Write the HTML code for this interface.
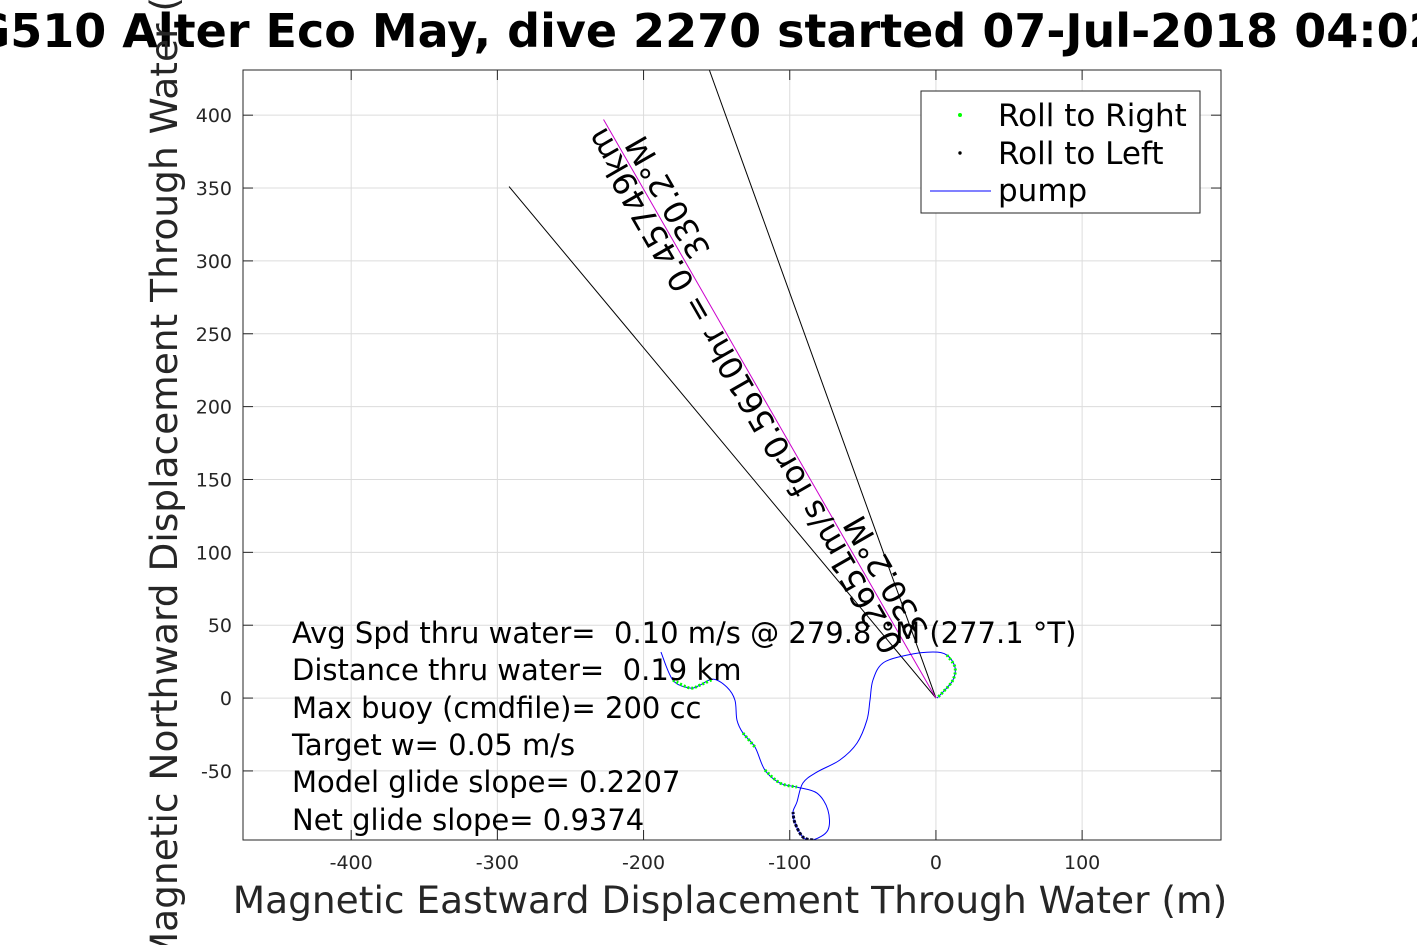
<!DOCTYPE html>
<html><head><meta charset="utf-8"><style>
html,body{margin:0;padding:0;background:#fff;}
body{width:1417px;height:945px;overflow:hidden;position:relative;font-family:"DejaVu Sans","Liberation Sans",sans-serif;}
.pre{white-space:pre;}
</style></head><body>
<svg id="chart" width="1417" height="945" xmlns="http://www.w3.org/2000/svg" font-family="DejaVu Sans, Liberation Sans, sans-serif">
<defs><clipPath id="pc"><rect x="243" y="70" width="978" height="770"/></clipPath></defs>
<rect x="0" y="0" width="1417" height="945" fill="#fff"/>
<text x="690" y="47" text-anchor="middle" font-size="46" font-weight="bold" fill="#000">SG510 Alter Eco May, dive 2270 started 07-Jul-2018 04:02</text>
<rect x="243" y="70" width="978" height="770" fill="#fff"/>
<g id="grid"></g>
<g id="marks" clip-path="url(#pc)"></g>
<rect x="243" y="70" width="978" height="770" fill="none" stroke="#262626" stroke-width="1"/>
<g id="ticks"></g>
<text x="730" y="913" text-anchor="middle" font-size="37.5" fill="#262626">Magnetic Eastward Displacement Through Water (m)</text>
<text transform="translate(177,455) rotate(-90)" text-anchor="middle" font-size="37.5" fill="#262626">Magnetic Northward Displacement Through Water (m)</text>
<g font-size="29" fill="#000" class="pre">
<text x="292" y="643" class="pre">Avg Spd thru water=  0.10 m/s @ 279.8 °M (277.1 °T)</text>
<text x="292" y="680" class="pre">Distance thru water=  0.19 km</text>
<text x="292" y="718">Max buoy (cmdfile)= 200 cc</text>
<text x="292" y="755">Target w= 0.05 m/s</text>
<text x="292" y="792">Model glide slope= 0.2207</text>
<text x="292" y="830">Net glide slope= 0.9374</text>
</g>
<g>
<rect x="921" y="91" width="279" height="122" fill="#fff" stroke="#262626"/>
<circle cx="960" cy="115" r="2" fill="#00ff00"/>
<text x="998" y="126" font-size="31">Roll to Right</text>
<circle cx="960" cy="153" r="1.7" fill="#000"/>
<text x="998" y="164" font-size="31">Roll to Left</text>
<line x1="930" y1="191" x2="991" y2="191" stroke="#0000ff" stroke-width="1"/>
<text x="998" y="201" font-size="31">pump</text>
</g>
</svg>
<script>
const xTicks=[-400,-300,-200,-100,0,100];
const yTicks=[-50,0,50,100,150,200,250,300,350,400];
const trackX=[-188.1,-179.9,-168.3,-161.4,-152.5,-143.0,-137.5,-136.1,-132.0,-123.8,-117.0,-106.7,-95.1,-81.4,-73.9,-73.9,-84.1,-91.0,-96.4,-97.8,-95.1,-91.0,-81.4,-65.7,-54.0,-47.2,-45.1,-43.1,-36.3,-19.8,-2.1,7.5,13.0,11.6,4.8,0.7];
const trackY=[31.6,12.3,6.9,8.9,13.0,7.5,-1.4,-15.1,-24.0,-33.6,-49.4,-58.3,-61.1,-65.2,-76.8,-90.6,-97.4,-95.4,-85.8,-78.2,-71.4,-58.3,-50.8,-42.5,-30.9,-15.1,-1.4,12.3,24.0,29.5,31.6,29.5,21.3,12.3,4.1,0];
const rightRollRanges=[[1,4],[8,9],[10,12],[31,35]];
const leftRollRanges=[[16,19]];
const headingDeg=[330.2];
const distanceM=[457.5];
const boundsX=[-292,-155];
const boundsY=[351,431];
const X0=-474,X1=195,Y0=-97.4,Y1=431;
const px0=243,px1=1221,py0=840,py1=70;
function sx(v){return px0+(v-X0)/(X1-X0)*(px1-px0);}
function sy(v){return py0-(v-Y0)/(Y1-Y0)*(py0-py1);}
const NS="http://www.w3.org/2000/svg";
function mk(t,a,p){const e=document.createElementNS(NS,t);for(const k in a)e.setAttribute(k,a[k]);p.appendChild(e);return e;}
const grid=document.getElementById('grid'),ticks=document.getElementById('ticks'),marks=document.getElementById('marks');
xTicks.forEach(t=>{const x=sx(t);
 const g=mk('line',{x1:x,x2:x,y1:70,y2:840,stroke:'#dcdcdc','stroke-width':1},grid);
 
 
 mk('line',{x1:x,x2:x,y1:840,y2:830,stroke:'#262626'},ticks);
 mk('line',{x1:x,x2:x,y1:70,y2:80,stroke:'#262626'},ticks);
 const l=mk('text',{x:x,y:869,'text-anchor':'middle','font-size':19,fill:'#262626'},ticks);
 
 
 l.textContent=t;});
yTicks.forEach(t=>{const y=sy(t);
 const g=mk('line',{x1:243,x2:1221,y1:y,y2:y,stroke:'#dcdcdc','stroke-width':1},grid);
 
 
 mk('line',{x1:243,x2:253,y1:y,y2:y,stroke:'#262626'},ticks);
 mk('line',{x1:1221,x2:1211,y1:y,y2:y,stroke:'#262626'},ticks);
 const l=mk('text',{x:232,y:y+7,'text-anchor':'end','font-size':19,fill:'#262626'},ticks);
 
 
 l.textContent=t;});
const ox=sx(0),oy=sy(0);
for(let i=0;i<boundsX.length;i++){
 const l=mk('line',{x1:ox,y1:oy,x2:sx(boundsX[i]),y2:sy(boundsY[i]),stroke:'#000','stroke-width':1},marks);
 
 
}
const h=headingDeg[0]*Math.PI/180;
const ex=distanceM[0]*Math.sin(h),ey=distanceM[0]*Math.cos(h);
const cv=mk('line',{x1:ox,y1:oy,x2:sx(ex),y2:sy(ey),stroke:'#cc00cc','stroke-width':1},marks);


function smooth(P){
 if(P.length<2)return '';
 let d='M'+P[0][0]+','+P[0][1];
 for(let i=0;i<P.length-1;i++){
  const p0=P[Math.max(0,i-1)],p1=P[i],p2=P[i+1],p3=P[Math.min(P.length-1,i+2)];
  const c1x=p1[0]+(p2[0]-p0[0])/6,c1y=p1[1]+(p2[1]-p0[1])/6;
  const c2x=p2[0]-(p3[0]-p1[0])/6,c2y=p2[1]-(p3[1]-p1[1])/6;
  d+=' C'+c1x+','+c1y+' '+c2x+','+c2y+' '+p2[0]+','+p2[1];
 }
 return d;}
const P=trackX.map((x,i)=>[sx(x),sy(trackY[i])]);
const tr=mk('path',{d:smooth(P),fill:'none',stroke:'#0000ff','stroke-width':1},marks);


rightRollRanges.forEach(r=>{
 const p=mk('path',{d:smooth(P.slice(r[0],r[1]+1)),fill:'none',stroke:'#00ff00','stroke-width':3,'stroke-dasharray':'2 2'},marks);
 
 });
leftRollRanges.forEach(r=>{
 const p=mk('path',{d:smooth(P.slice(r[0],r[1]+1)),fill:'none',stroke:'#000033','stroke-width':3,'stroke-dasharray':'3 1.5'},marks);
 
 });
const ang=Math.atan2(sy(ey)-oy,sx(ex)-ox)*180/Math.PI+360;
const ux=Math.cos(ang*Math.PI/180),uy=Math.sin(ang*Math.PI/180);
const nx=0.866,ny=-0.5;
function lab(d,off,txt,name,fs){
 const x=ox+ux*d+nx*off,y=oy+uy*d+ny*off;
 const t=mk('text',{x:x,y:y,'font-size':fs,fill:'#000',transform:'rotate('+ang+' '+x+' '+y+')'},document.getElementById('chart'));
 
 
 t.textContent=txt;}
lab(62,-2,'0.2651m/s for0.5610hr = 0.45749km','current-speed-label',32);
lab(62,28,'330.2°M','current-heading-label-near',32);
lab(500,28,'330.2°M','current-heading-label-far',32);
</script>
</body></html>
